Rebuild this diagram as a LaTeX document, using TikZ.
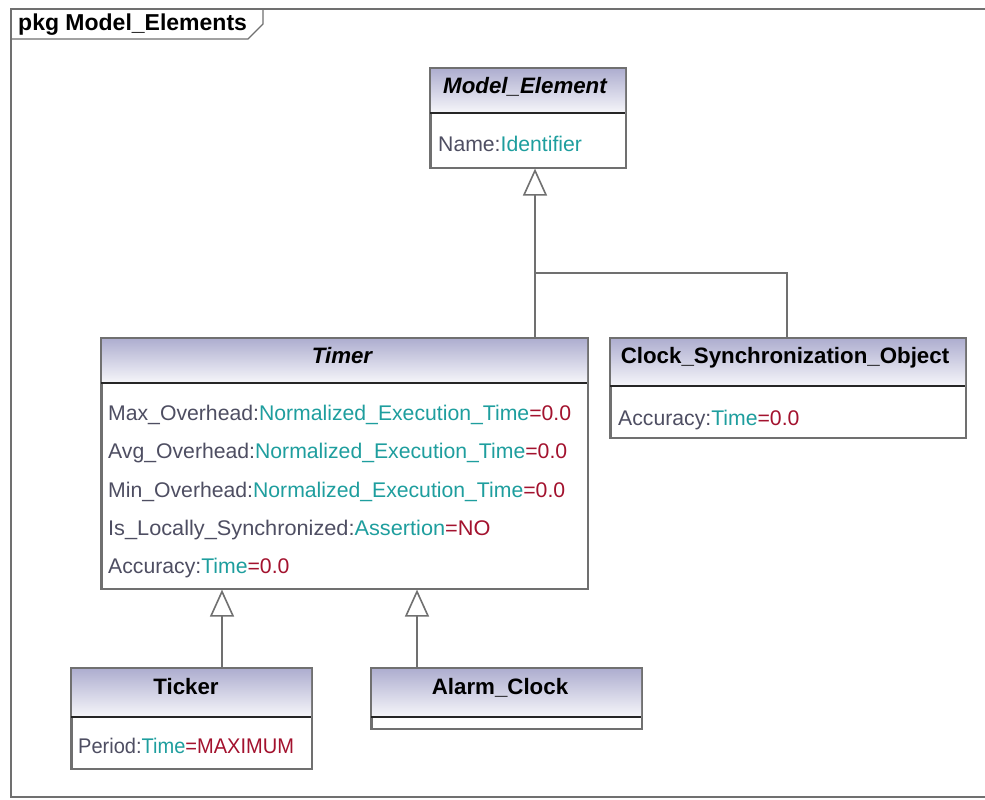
\documentclass[tikz,border=0pt]{standalone}
\usepackage{fontspec}
\setmainfont{Liberation Sans}
\usetikzlibrary{arrows.meta}
\definecolor{framegray}{HTML}{707070}
\definecolor{hdrtop}{HTML}{ADADCF}
\definecolor{hdrbot}{HTML}{F6F6FA}
\definecolor{attrname}{HTML}{4E4E62}
\definecolor{attrtype}{HTML}{1E9E9E}
\definecolor{attrval}{HTML}{A3122E}
\newcommand{\attr}[3]{\textcolor{attrname}{#1:}\textcolor{attrtype}{#2}\ifx&#3&\else\textcolor{attrval}{=#3}\fi}
\tikzset{
  classbox/.style={draw=framegray, line width=1.6pt, fill=white},
  sepline/.style={draw=black!85, line width=1.5pt},
  hdrshade/.style={top color=hdrtop, bottom color=hdrbot},
  title/.style={font=\fontsize{22.3}{26}\selectfont\bfseries, inner sep=0pt, anchor=base},
  abstitle/.style={title, font=\fontsize{22.3}{26}\selectfont\bfseries\itshape},
  attrtext/.style={font=\fontsize{21.2}{25}\selectfont, inner sep=0pt, anchor=base west},
  gen/.style={draw=framegray, line width=1.6pt},
  genhead/.style={gen, -{Triangle[open, length=27pt, width=24pt, line width=1.6pt]}},
}
\begin{document}
\begin{tikzpicture}[x=1pt, y=-1pt]
\useasboundingbox (0,0) rectangle (985,800);
\fill[white] (0,0) rectangle (985,800);

% package frame and its name tab
\draw[framegray, line width=1.6pt] (992,9) -- (11,9) -- (11,797) -- (992,797);
\draw[framegray, line width=1.4pt] (11,39) -- (248,39) -- (263,24) -- (263,9);
\node[title, anchor=base west, font=\fontsize{23}{26}\selectfont\bfseries] (pkg) at (18,31) {pkg Model\_Elements};

% Model_Element
\node[classbox, minimum width=195pt, minimum height=99pt, inner sep=0pt, anchor=north west] (model) at (430,68) {};
\shade[hdrshade] (model.north west) rectangle (625,113);
\draw[framegray, line width=1.6pt] (model.north west) rectangle (model.south east);
\draw[sepline] (430,113) -- (625,113);
\node[abstitle] (modelT) at (525,93) {Model\_Element};
\node[attrtext] (modelA1) at (438,151) {\attr{Name}{Identifier}{}};

% Timer
\node[classbox, minimum width=486pt, minimum height=250pt, inner sep=0pt, anchor=north west] (timer) at (101,338) {};
\shade[hdrshade] (timer.north west) rectangle (587,383);
\draw[framegray, line width=1.6pt] (timer.north west) rectangle (timer.south east);
\draw[sepline] (101,383) -- (587,383);
\node[abstitle] (timerT) at (342,363) {Timer};
\node[attrtext] (timerA1) at (108,420) {\attr{Max\_Overhead}{Normalized\_Execution\_Time}{0.0}};
\node[attrtext] (timerA2) at (108,458) {\attr{Avg\_Overhead}{Normalized\_Execution\_Time}{0.0}};
\node[attrtext] (timerA3) at (108,497) {\attr{Min\_Overhead}{Normalized\_Execution\_Time}{0.0}};
\node[attrtext] (timerA4) at (108,535) {\scalebox{1.025}[1]{\attr{Is\_Locally\_Synchronized}{Assertion}{NO}}};
\node[attrtext] (timerA5) at (108,573) {\attr{Accuracy}{Time}{0.0}};

% Clock_Synchronization_Object
\node[classbox, minimum width=355pt, minimum height=99pt, inner sep=0pt, anchor=north west] (cso) at (610,338) {};
\shade[hdrshade] (cso.north west) rectangle (965,386);
\draw[framegray, line width=1.6pt] (cso.north west) rectangle (cso.south east);
\draw[sepline] (610,386) -- (965,386);
\node[title] (csoT) at (785,363) {Clock\_Synchronization\_Object};
\node[attrtext] (csoA1) at (618,425) {\attr{Accuracy}{Time}{0.0}};

% Ticker
\node[classbox, minimum width=240pt, minimum height=100pt, inner sep=0pt, anchor=north west] (ticker) at (71,668) {};
\shade[hdrshade] (ticker.north west) rectangle (311,717);
\draw[framegray, line width=1.6pt] (ticker.north west) rectangle (ticker.south east);
\draw[sepline] (71,717) -- (311,717);
\node[title] (tickerT) at (186,694) {Ticker};
\node[attrtext] (tickerA1) at (78,753) {\scalebox{0.945}[1]{\attr{Period}{Time}{MAXIMUM}}};

% Alarm_Clock
\node[classbox, minimum width=270pt, minimum height=60pt, inner sep=0pt, anchor=north west] (alarm) at (371,668) {};
\shade[hdrshade] (alarm.north west) rectangle (641,717);
\draw[framegray, line width=1.6pt] (alarm.north west) rectangle (alarm.south east);
\draw[sepline] (371,717) -- (641,717);
\node[title] (alarmT) at (500,694) {Alarm\_Clock};

% generalizations
\coordinate (gjoin) at (535,273);
\coordinate (gticker) at (222,642);
\coordinate (galarm) at (417,642);
\draw[genhead] (timer.north -| gjoin) -- (gjoin) -- (model.south -| gjoin);
\draw[gen] (cso.north -| 787,0) |- (gjoin);
\draw[genhead] (ticker.north -| gticker) -- (timer.south -| gticker);
\draw[genhead] (alarm.north -| galarm) -- (timer.south -| galarm);
\end{tikzpicture}
\end{document}
